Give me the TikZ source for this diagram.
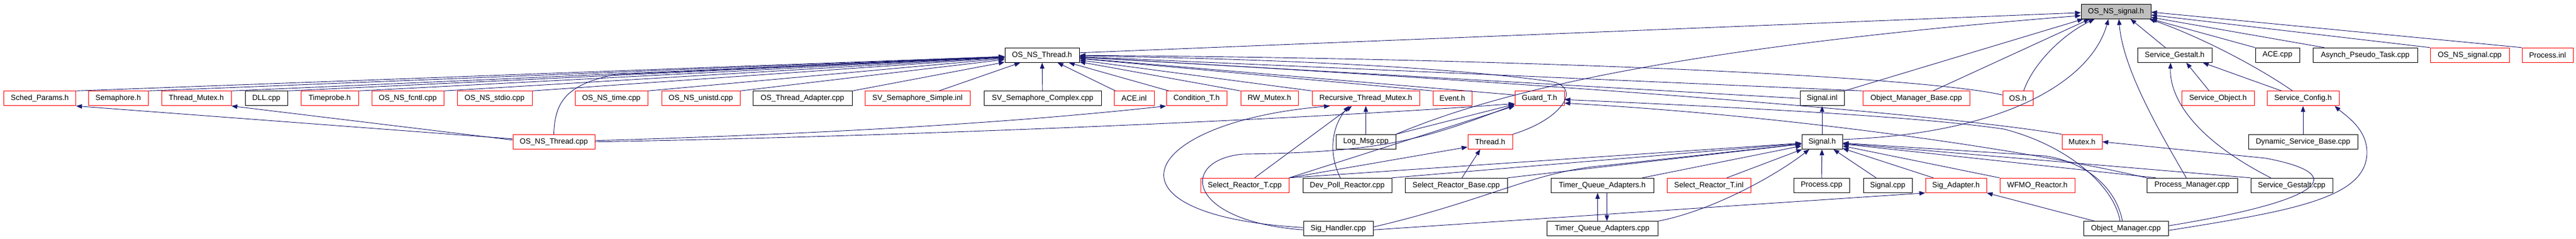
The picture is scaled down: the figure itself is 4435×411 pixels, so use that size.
\documentclass[tikz,border=0pt]{standalone}
\usepackage{fontspec}
\setmainfont{Liberation Sans}
\usetikzlibrary{arrows.meta}
\definecolor{edgec}{HTML}{191970}
\definecolor{rootfill}{HTML}{BFBFBF}
\begin{document}
\begin{tikzpicture}[x=1pt,y=-1pt,
 box/.style={draw, rectangle, line width=1pt, minimum height=25pt, inner sep=0pt, font=\fontsize{13}{15}\selectfont, text=black},
 rb/.style={box, draw=red},
 bb/.style={box, draw=black},
 rootbox/.style={box, draw=black, fill=rootfill},
 e/.style={draw=edgec, line width=0.9pt, -{Triangle[length=10pt,width=7.5pt]}}]
\fill[white] (0,0) rectangle (4435,411);
\useasboundingbox (0,0) rectangle (4435,411);
% row 0
\node[rootbox, minimum width=120pt] (root) at (3643,19.8) {OS\_NS\_signal.h};
% row 1
\node[bb, minimum width=128pt] (ost) at (1794,94.8) {OS\_NS\_Thread.h};
\node[bb, minimum width=128pt] (sgh) at (3744,94.8) {Service\_Gestalt.h};
\node[bb, minimum width=76pt] (acecpp) at (3921,94.8) {ACE.cpp};
\node[bb, minimum width=180pt] (apt) at (4072,94.8) {Asynch\_Pseudo\_Task.cpp};
\node[rb, minimum width=136pt] (nssigcpp) at (4252,94.8) {OS\_NS\_signal.cpp};
\node[rb, minimum width=88pt] (procinl) at (4386,94.8) {Process.inl};
% row 2
\node[rb, minimum width=124pt] (sched) at (68.6,169.3) {Sched\_Params.h};
\node[rb, minimum width=103pt] (sema) at (203.5,169.3) {Semaphore.h};
\node[rb, minimum width=120pt] (tmutex) at (338,169.3) {Thread\_Mutex.h};
\node[bb, minimum width=73pt] (dll) at (458.5,169.3) {DLL.cpp};
\node[rb, minimum width=99pt] (tprobe) at (567.5,169.3) {Timeprobe.h};
\node[rb, minimum width=124pt] (fcntl) at (702,169.3) {OS\_NS\_fcntl.cpp};
\node[rb, minimum width=129pt] (stdio) at (851.5,169.3) {OS\_NS\_stdio.cpp};
\node[rb, minimum width=125pt] (ntime) at (1052.5,169.3) {OS\_NS\_time.cpp};
\node[rb, minimum width=135pt] (unistd) at (1206.5,169.3) {OS\_NS\_unistd.cpp};
\node[bb, minimum width=171pt] (ota) at (1381.5,169.3) {OS\_Thread\_Adapter.cpp};
\node[rb, minimum width=181pt] (svss) at (1579.5,169.3) {SV\_Semaphore\_Simple.inl};
\node[bb, minimum width=202pt] (svsc) at (1795,169.3) {SV\_Semaphore\_Complex.cpp};
\node[rb, minimum width=69pt] (aceinl) at (1952.5,169.3) {ACE.inl};
\node[rb, minimum width=104pt] (condt) at (2060,169.3) {Condition\_T.h};
\node[rb, minimum width=99pt] (rwm) at (2185.5,169.3) {RW\_Mutex.h};
\node[rb, minimum width=185pt] (rtm) at (2351.5,169.3) {Recursive\_Thread\_Mutex.h};
\node[rb, minimum width=67pt] (event) at (2500.5,169.3) {Event.h};
\node[rb, minimum width=85pt] (guard) at (2650.5,169.3) {Guard\_T.h};
\node[bb, minimum width=76pt] (siginl) at (3137,169.3) {Signal.inl};
\node[rb, minimum width=184pt] (omb) at (3299,169.3) {Object\_Manager\_Base.cpp};
\node[rb, minimum width=52pt] (osh) at (3474,169.3) {OS.h};
\node[rb, minimum width=125pt] (sobj) at (3818.5,169.3) {Service\_Object.h};
\node[rb, minimum width=124pt] (sconf) at (3965,169.3) {Service\_Config.h};
% row 3
\node[rb, minimum width=141pt] (ostcpp) at (953.5,243.8) {OS\_NS\_Thread.cpp};
\node[bb, minimum width=103pt] (logmsg) at (2351.5,243.8) {Log\_Msg.cpp};
\node[rb, minimum width=77pt] (thread) at (2565.5,243.8) {Thread.h};
\node[bb, minimum width=70pt] (sigh) at (3137,243.8) {Signal.h};
\node[rb, minimum width=69pt] (mutex) at (3584.5,243.8) {Mutex.h};
\node[bb, minimum width=188pt] (dsb) at (3965,243.8) {Dynamic\_Service\_Base.cpp};
% row 4
\node[rb, minimum width=152pt] (srtcpp) at (2143,318.8) {Select\_Reactor\_T.cpp};
\node[bb, minimum width=153pt] (dpr) at (2319.5,318.8) {Dev\_Poll\_Reactor.cpp};
\node[bb, minimum width=176pt] (srb) at (2507,318.8) {Select\_Reactor\_Base.cpp};
\node[bb, minimum width=177pt] (tqah) at (2758.5,318.8) {Timer\_Queue\_Adapters.h};
\node[rb, minimum width=144pt] (srtinl) at (2942,318.8) {Select\_Reactor\_T.inl};
\node[bb, minimum width=96pt] (proccpp) at (3136,318.8) {Process.cpp};
\node[bb, minimum width=84pt] (sigcpp) at (3250,318.8) {Signal.cpp};
\node[rb, minimum width=105pt] (sigad) at (3367.5,318.8) {Sig\_Adapter.h};
\node[rb, minimum width=129pt] (wfmo) at (3507.5,318.8) {WFMO\_Reactor.h};
\node[bb, minimum width=156pt] (pm) at (3774,318.8) {Process\_Manager.cpp};
\node[bb, minimum width=141pt] (sgcpp) at (3945.5,318.8) {Service\_Gestalt.cpp};
% row 5
\node[bb, minimum width=120pt] (sighcpp) at (2304,393.3) {Sig\_Handler.cpp};
\node[bb, minimum width=191pt] (tqacpp) at (2758.5,393.3) {Timer\_Queue\_Adapters.cpp};
\node[bb, minimum width=146pt] (omcpp) at (3660,393.3) {Object\_Manager.cpp};

% ---- edges into OS_NS_signal.h
\draw[e] ([yshift=4pt]ost.east) -- ([yshift=-2pt]root.west);
\draw[e] (logmsg.north east) .. controls (2560,165) and (2850,85) .. ([yshift=-7pt]root.west);
\draw[e] (siginl.north east) -- ([xshift=4pt]root.south west);
\draw[e] ([xshift=29pt]omb.north) -- ([xshift=15pt]root.south west);
\draw[e] ([xshift=10pt]osh.north) .. controls (3500,110) and (3550,60) .. ([xshift=-37pt]root.south);
\draw[e] ([yshift=4pt]sigh.east) .. controls (3450,230) and (3600,140) .. ([xshift=-13pt]root.south);
\draw[e] ([xshift=-10pt]pm.north) .. controls (3720,230) and (3655,120) .. ([xshift=5pt]root.south);
\draw[e] ([xshift=-16pt]sgh.north) -- ([xshift=25pt]root.south);
\draw[e] ([xshift=-18pt]sconf.north) .. controls (3880,110) and (3780,60) .. ([xshift=-3pt]root.south east);
\draw[e] (acecpp.north west) -- (root.south east);
\draw[e] ([xshift=20pt]apt.north west) -- ([yshift=3pt]root.south east);
\draw[e] (nssigcpp.north west) -- ([yshift=-6pt]root.east);
\draw[e] (procinl.north west) -- ([yshift=-1pt]root.east);

% ---- edges into OS_NS_Thread.h
\foreach \nd in {sched,sema,tmutex,dll,tprobe,fcntl,stdio,ntime,unistd,ota}
  \draw[e] (\nd.north east) -- (ost);
\draw[e] ([xshift=37pt]svss.north) -- (ost);
\draw[e] (svsc) -- (ost);
\draw[e] (ostcpp.north) .. controls (955,175) and (975,145) .. (1060,128) -- (ost);
\draw[e] ([xshift=3pt]aceinl.north west) -- (ost);
\draw[e] ([xshift=5pt]condt.north west) -- (ost);
\draw[e] (rwm.north west) -- (ost);
\draw[e] (rtm.north west) -- (ost);
\draw[e] (event.north west) -- (ost);
\draw[e] ([yshift=6pt]guard.west) -- (ost);
\draw[e] (thread.north east) .. controls (2690,205) and (2725,150) .. (2670,140) .. controls (2450,110) and (2100,100) .. (ost);
\draw[e] (siginl.west) -- (ost);
\draw[e] (omb.north west) -- (ost);
\draw[e] ([yshift=6pt]osh.west) .. controls (3300,130) and (2600,100) .. (ost);
\draw[e] (mutex.north west) .. controls (3300,190) and (2600,140) .. (ost);

% ---- OS_NS_Thread.cpp
\draw[e] ([yshift=5pt]ostcpp.west) -- (sched.south east);
\draw[e] ([yshift=3pt]ostcpp.west) -- (tmutex.south east);
\draw[e] ([yshift=2pt]ostcpp.east) .. controls (1500,228) and (1800,205) .. (condt.south west);
\draw[e] (ostcpp.east) .. controls (1500,236) and (2200,208) .. ([yshift=4pt]guard.south west);

% ---- Log_Msg.cpp
\draw[e] (logmsg) -- (rtm);
\draw[e] (logmsg.north east) -- ([yshift=3pt]guard.south west);

% ---- Select_Reactor_T.cpp, Dev_Poll_Reactor.cpp, Select_Reactor_Base.cpp
\draw[e] ([xshift=17pt]srtcpp.north) -- ([xshift=-24pt]rtm.south);
\draw[e] (srtcpp.north east) -- (guard.south west);
\draw[e] (srtcpp.north east) -- ([yshift=4pt]thread.south west);
\draw[e] (srtcpp.north east) -- (sigh);
\draw[e] ([xshift=-12pt]dpr.north) .. controls (2285,260) and (2295,215) .. ([xshift=-29pt]rtm.south);
\draw[e] (dpr.north east) -- (sigh);
\draw[e] ([xshift=10pt]srb.north) -- ([xshift=-17pt]thread.south);
\draw[e] (srb.north east) -- (sigh);

% ---- Sig_Handler.cpp
\draw[e] ([yshift=2pt]sighcpp.west) .. controls (1880,370) and (1960,210) .. ([xshift=-62pt]rtm.south);
\draw[e] ([yshift=-2pt]sighcpp.west) .. controls (2040,380) and (2030,275) .. (2140,265) .. controls (2380,262) and (2450,240) .. ([yshift=2pt]guard.south west);
\draw[e] ([yshift=3pt]sighcpp.east) .. controls (2560,345) and (2640,295) .. (2760,285) -- (sigh);
\draw[e] ([yshift=-2pt]sighcpp.east) -- (sigad.south west);

% ---- Timer_Queue_Adapters
\draw[e] ([xshift=-8pt]tqacpp.north) -- ([xshift=-8pt]tqah.south);
\draw[e] ([xshift=8pt]tqah.south) -- ([xshift=8pt]tqacpp.north);
\draw[e] ([xshift=-20pt]tqah.north east) -- (sigh);
\draw[e] (tqacpp.north east) .. controls (2950,362) and (3060,300) .. ([xshift=-22pt]sigh.south);

% ---- into Signal.h / Signal.inl
\draw[e] ([xshift=31pt]srtinl.north) -- (sigh);
\draw[e] (proccpp) -- (sigh);
\draw[e] ([xshift=-20pt]sigcpp.north) -- (sigh);
\draw[e] ([xshift=14pt]sigad.north west) -- (sigh);
\draw[e] (wfmo.north west) -- (sigh);
\draw[e] ([xshift=16pt]pm.north west) -- (sigh);
\draw[e] (sgcpp.north west) -- (sigh);
\draw[e] (sigh) -- (siginl);

% ---- Object_Manager.cpp, Process_Manager.cpp
\draw[e] ([xshift=-6pt]omcpp.north) .. controls (3645,330) and (3600,280) .. (3520,268) -- (sigh);
\draw[e] ([xshift=-10pt]omcpp.north) .. controls (3640,320) and (3560,250) .. (3450,222) .. controls (3300,200) and (3000,185) .. (guard);
\draw[e] (pm.north west) .. controls (3500,260) and (3100,200) .. ([yshift=-8pt]guard.east);
\draw[e] ([xshift=20pt]omcpp.north west) -- (sigad.south east);
\draw[e] ([yshift=5pt]omcpp.east) .. controls (4000,345) and (4050,300) .. (3900,272) -- (mutex.east);
\draw[e] ([yshift=-3pt]omcpp.east) .. controls (3950,362) and (4075,340) .. (4075,262) .. controls (4075,222) and (4040,200) .. ([xshift=-8pt]sconf.south east);

% ---- Service_*
\draw[e] (dsb) -- (sconf);
\draw[e] ([xshift=-15pt]sobj.north) -- ([xshift=20pt]sgh.south);
\draw[e] ([xshift=-37pt]sconf.north) -- ([xshift=-16pt]sgh.south east);
\draw[e] ([xshift=-36pt]sgcpp.north) .. controls (3780,240) and (3735,170) .. ([xshift=-7pt]sgh.south);
\end{tikzpicture}
\end{document}
